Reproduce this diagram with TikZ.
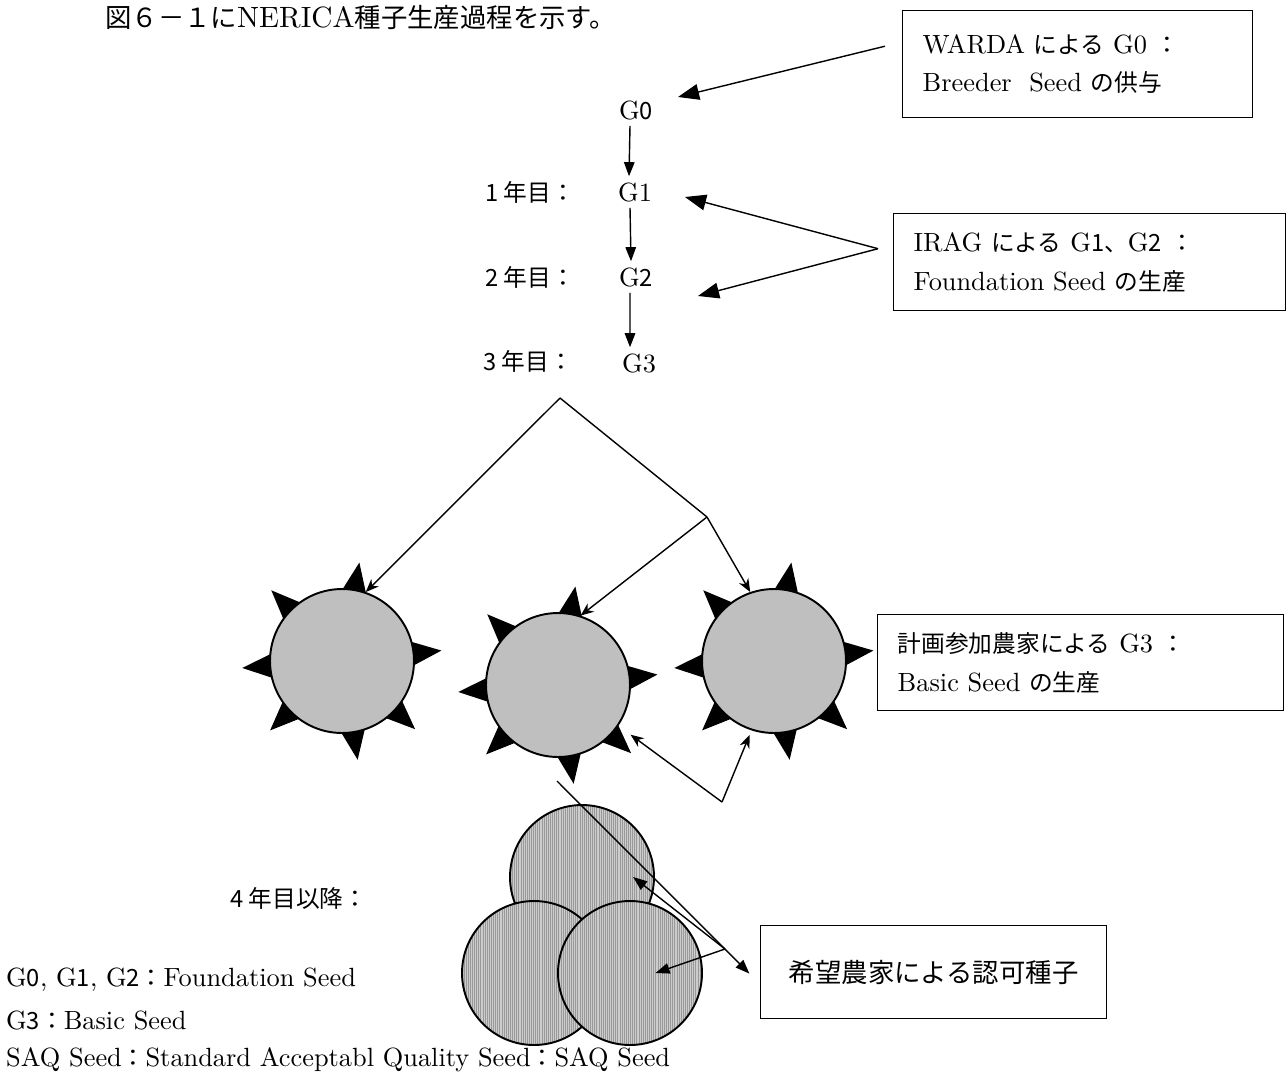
\documentclass[tikz,border=0pt]{standalone}
\usepackage{fontspec}
\setmainfont{lmroman10-regular.otf}
\newfontfamily\jpfont{Noto Sans CJK JP}[Scale=0.9]
\newcommand{\ja}[1]{{\jpfont #1}}
\usetikzlibrary{arrows.meta,calc,patterns.meta,backgrounds}

\tikzset{
    every node/.style={font=\fontsize{15}{22}\selectfont},
    infobox/.style={draw, line width=0.8pt, align=left, inner xsep=0.4cm, inner ysep=0pt, anchor=north west},
    yearlabel/.style={anchor=west, font=\fontsize{15}{18}\selectfont\jpfont},
    sun/.style={circle, draw, line width=1.1pt, fill=black!25, minimum size=2.88cm, inner sep=0pt},
    seed/.style={circle, draw, line width=1.1pt, minimum size=2.88cm, inner sep=0pt,
        preaction={fill=black!20},
        preaction={pattern={Lines[angle=90,distance=1.2pt,line width=0.3pt]}, pattern color=black!40}},
    link/.style={line width=0.8pt},
    bigtip/.style={-{Triangle[length=12pt,width=9pt]}, line width=0.8pt},
    steptip/.style={-{Triangle[length=8pt,width=6pt]}, line width=0.8pt},
    treetip/.style={-{Stealth[length=7.5pt,width=6pt]}, line width=0.8pt},
}

\begin{document}
\begin{tikzpicture}[x=0.02cm,y=-0.02cm]
    \useasboundingbox (0,0) rectangle (1288,1075);

    \node[anchor=west, font=\fontsize{16.7}{20}\selectfont] (title) at (99,18)
        {\ja{図６－１に}NERICA\ja{種子生産過程を示す。}};

    % generations
    \node (g0) at (636,110) {G\ja{0}};
    \node (g1) at (635,192) {G1};
    \node (g2) at (636,277) {G\ja{2}};
    \node (g3) at (639,363) {G3};
    \node[yearlabel] (y1) at (479,192) {1 年目：};
    \node[yearlabel] (y2) at (479,277) {2 年目：};
    \node[yearlabel] (y3) at (477,361) {3 年目：};
    \node[yearlabel] (y4) at (224,898) {4 年目以降：};

    \draw[steptip] ([xshift=-0.12cm]g0.south) -- ([xshift=-0.12cm]g1.north);
    \draw[steptip] ([xshift=-0.1cm]g1.south) -- ([xshift=-0.1cm]g2.north);
    \draw[steptip] ([xshift=-0.12cm]g2.south) -- ([xshift=-0.18cm]g3.north);

    % boxes
    \node[infobox, minimum width=7cm, minimum height=2.14cm, text width=6.2cm] (warda) at (902,10)
        {WARDA \ja{による} G0 \ja{：}\\Breeder\ \ Seed \ja{の供与}};
    \node[infobox, minimum width=7.84cm, minimum height=1.94cm, text width=7.04cm] (irag) at (893,213)
        {IRAG \ja{による} G\ja{1、}G\ja{2} \ja{：}\\Foundation Seed \ja{の生産}};
    \node[infobox, minimum width=8.12cm, minimum height=1.92cm, text width=7.32cm] (farm) at (877,614)
        {\ja{計画参加農家による} G3 \ja{：}\\Basic Seed \ja{の生産}};
    \node[infobox, minimum width=6.92cm, minimum height=1.86cm, text width=6.12cm, align=center,
        font=\fontsize{16.7}{20}\selectfont\jpfont] (auth) at (760,925) {希望農家による認可種子};

    \coordinate (iragfoot) at ([xshift=-0.3cm,yshift=0.27cm]irag.west);
    \draw[bigtip] ([xshift=-0.34cm,yshift=0.36cm]warda.west) -- ([xshift=0.84cm,yshift=0.26cm]g0.center);
    \draw[bigtip] (iragfoot) -- ([xshift=1cm,yshift=-0.1cm]g1.center);
    \draw[bigtip] (iragfoot) -- ([xshift=1.24cm,yshift=-0.38cm]g2.center);

    % G3 fields
    \node[sun] (s1) at (342,661) {};
    \node[sun] (s2) at (558,685) {};
    \node[sun] (s3) at (774,661) {};
    \begin{scope}[on background layer]
        \foreach \s in {s1,s2,s3}
            \foreach \a in {80,135,184,224,279,317,6}
                \fill[shift={(\s.center)}] (\a-11:1.38cm) -- (\a:2cm) -- (\a+11:1.38cm) -- cycle;
    \end{scope}

    \coordinate (fork) at (560,398);
    \coordinate (fork2) at (707,517);
    \draw[treetip] (fork) -- (s1.71);
    \draw[link] (fork) -- (fork2);
    \draw[treetip] (fork2) -- (s2.72);
    \draw[treetip] (fork2) -- (s3.109);

    \coordinate (split) at (722,802);
    \draw[treetip, shorten >=0.3cm] (split) -- (s2.-34);
    \draw[treetip, shorten >=0.1cm] (split) -- (s3.-108);

    % SAQ seed
    \node[seed] (h1) at (582,877) {};
    \node[seed] (h2) at (534,973) {};
    \node[seed] (h3) at (630,973) {};

    \coordinate (drop) at (557,781);
    \coordinate (fan) at (725,949);
    \draw[steptip, shorten >=0.3cm] (drop) -- ([yshift=-0.24cm]auth.west);
    \draw[steptip] (fan) -- ($(h1.center)!0.7!(h1.east)$);
    \draw[steptip] (fan) -- ($(h3.center)!0.35!(h3.east)$);

    % notes
    \node[anchor=west] (note1) at (0,980) {G\ja{0}, G\ja{1}, G\ja{2}\ja{：}Foundation Seed};
    \node[anchor=west] (note2) at (0,1020) {G\ja{3}\ja{：}Basic Seed};
    \node[anchor=west] (note3) at (0,1060) {SAQ Seed\ja{：}Standard Acceptabl Quality Seed\ja{：}SAQ Seed};
\end{tikzpicture}
\end{document}
